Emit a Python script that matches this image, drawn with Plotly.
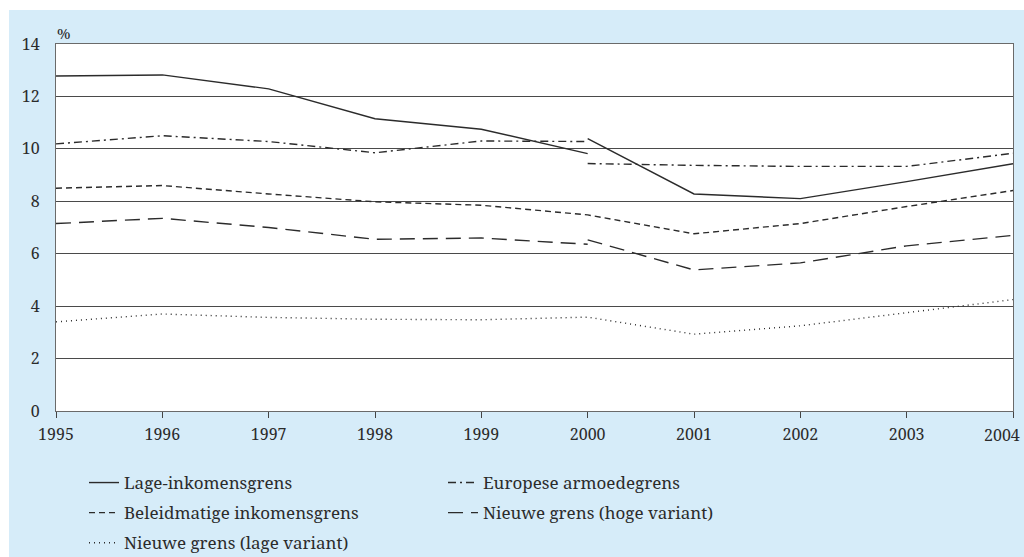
import plotly.graph_objects as go

# Years on the horizontal axis
years = [1995, 1996, 1997, 1998, 1999, 2000, 2001, 2002, 2003, 2004]
# Series that were revised in 2000 have an old part (1995-2000) and a new part (2000-2004)
years_old = [1995, 1996, 1997, 1998, 1999, 2000]
years_new = [2000, 2001, 2002, 2003, 2004]

lage_old = [12.78, 12.82, 12.29, 11.15, 10.75, 9.82]
lage_new = [10.39, 8.28, 8.10, 8.75, 9.43]

europees_old = [10.19, 10.50, 10.28, 9.85, 10.30, 10.28]
europees_new = [9.44, 9.37, 9.33, 9.33, 9.83]

beleid = [8.50, 8.60, 8.28, 7.98, 7.85, 7.48, 6.76, 7.15, 7.80, 8.41]

hoog_old = [7.15, 7.35, 7.00, 6.55, 6.60, 6.36]
hoog_new = [6.53, 5.38, 5.65, 6.30, 6.70]

laag = [3.40, 3.70, 3.57, 3.50, 3.48, 3.58, 2.93, 3.25, 3.75, 4.25]

y_ticks = [0, 2, 4, 6, 8, 10, 12, 14]

INK = "#2b2b2b"
BLUE = "#d6ecf9"
FONT = "Noto Serif"


def joined(xa, ya, xb, yb):
    """Two segments in one trace, separated by a gap."""
    return list(xa) + [None] + list(xb), list(ya) + [None] + list(yb)


fig = go.Figure()

x, y = joined(years_old, lage_old, years_new, lage_new)
fig.add_trace(go.Scatter(x=x, y=y, mode="lines", name="Lage-inkomensgrens",
                         line=dict(color=INK, width=1.4, dash="solid"),
                         legend="legend", legendgroup="a"))

fig.add_trace(go.Scatter(x=years, y=beleid, mode="lines", name="Beleidmatige inkomensgrens",
                         line=dict(color=INK, width=1.4, dash="6px,4px"),
                         legend="legend", legendgroup="b"))

fig.add_trace(go.Scatter(x=years, y=laag, mode="lines", name="Nieuwe grens (lage variant)",
                         line=dict(color=INK, width=1.4, dash="1px,4px"),
                         legend="legend", legendgroup="c"))

x, y = joined(years_old, europees_old, years_new, europees_new)
fig.add_trace(go.Scatter(x=x, y=y, mode="lines", name="Europese armoedegrens",
                         line=dict(color=INK, width=1.4, dash="8px,4px,2px,4px"),
                         legend="legend2", legendgroup="d"))

x, y = joined(years_old, hoog_old, years_new, hoog_new)
fig.add_trace(go.Scatter(x=x, y=y, mode="lines", name="Nieuwe grens (hoge variant)",
                         line=dict(color=INK, width=1.4, dash="15px,8px"),
                         legend="legend2", legendgroup="e"))

# plot geometry in pixels
W, H = 1024, 557
L, R, T, B = 56, 11, 44, 146
pw, ph = W - L - R, H - T - B


def px_x(p):
    return (p - L) / pw


def px_y(p):
    return (H - B - p) / ph


fig.add_shape(type="rect", xref="paper", yref="paper",
              x0=px_x(9), x1=px_x(W + 2), y0=px_y(H + 2), y1=px_y(10),
              fillcolor=BLUE, line_width=0, layer="below")
fig.add_shape(type="rect", xref="paper", yref="paper",
              x0=0, x1=1, y0=0, y1=1,
              fillcolor="white", line_width=0, layer="below")

fig.add_annotation(text="%", xref="paper", yref="paper",
                   x=px_x(55), y=px_y(33), xanchor="left", yanchor="middle",
                   showarrow=False, font=dict(family=FONT, size=15, color=INK))

# last year label sits just inside the right edge
fig.add_annotation(text=str(years[-1]), xref="paper", yref="paper",
                   x=px_x(1022), y=px_y(435), xanchor="right", yanchor="middle",
                   showarrow=False, font=dict(family=FONT, size=16, color=INK))

legend_style = dict(font=dict(family=FONT, size=17, color=INK),
                    bgcolor="rgba(0,0,0,0)", borderwidth=0,
                    orientation="v", xanchor="left", yanchor="top",
                    tracegroupgap=5, itemwidth=30)

fig.update_layout(
    width=W, height=H,
    margin=dict(l=L, r=R, t=T, b=B, autoexpand=False),
    paper_bgcolor="white",
    plot_bgcolor="rgba(0,0,0,0)",
    font=dict(family=FONT, size=16, color=INK),
    showlegend=True,
    legend=dict(x=px_x(84), y=px_y(465), **legend_style),
    legend2=dict(x=px_x(443), y=px_y(465), **legend_style),
    xaxis=dict(range=[1995, 2004], tickmode="array", tickvals=years,
               ticktext=[str(v) for v in years[:-1]] + [""],
               showgrid=False, zeroline=False,
               showline=True, linecolor="#6a6a6a", linewidth=1.2, mirror=True,
               ticks="outside", ticklen=6, tickcolor="#444", tickwidth=1,
               ticklabelstandoff=3,
               tickfont=dict(family=FONT, size=16, color=INK)),
    yaxis=dict(range=[0, 14], tickmode="array", tickvals=y_ticks,
               showgrid=True, gridcolor="#4a4a4a", gridwidth=1,
               zeroline=False,
               showline=True, linecolor="#6a6a6a", linewidth=1.2, mirror=True,
               ticks="", ticklabelstandoff=12,
               tickfont=dict(family=FONT, size=16, color=INK)),
)

fig.write_html("out.html")
